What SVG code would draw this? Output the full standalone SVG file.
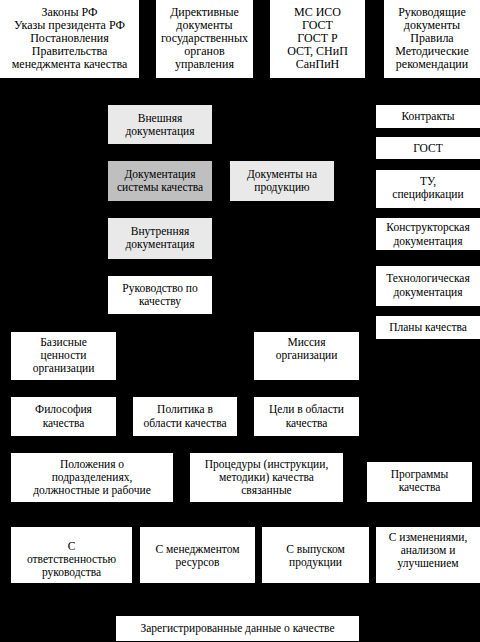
<svg xmlns="http://www.w3.org/2000/svg" width="480" height="642" viewBox="0 0 480 642">
<style>
.bg{fill:#000}
.b{fill:#fff}
.l{fill:#e9e9e9}
.d{fill:#bfbfbf}
text{font-size:11.5px;fill:#000;text-anchor:middle}
.t text{font-size:12px}
</style>
<rect class="bg" x="0" y="0" width="480" height="642"/>
<g id="connectors"></g>
<g font-family="Liberation Serif, DejaVu Serif, serif">
<g id="n1" class="t"><rect class="b" x="0" y="0" width="139" height="78"/><text x="69.5" y="16">Законы РФ</text><text x="69.5" y="29">Указы президента РФ</text><text x="69.5" y="42">Постановления</text><text x="69.5" y="55">Правительства</text><text x="69.5" y="68">менеджмента качества</text></g>
<g id="n2" class="t"><rect class="b" x="156" y="0" width="97" height="78"/><text x="204.5" y="16">Директивные</text><text x="204.5" y="29">документы</text><text x="204.5" y="42">государственных</text><text x="204.5" y="55">органов</text><text x="204.5" y="68">управления</text></g>
<g id="n3" class="t"><rect class="b" x="270" y="0" width="95" height="78"/><text x="317.5" y="16">МС ИСО</text><text x="317.5" y="29">ГОСТ</text><text x="317.5" y="42">ГОСТ Р</text><text x="317.5" y="55">ОСТ, СНиП</text><text x="317.5" y="68">СанПиН</text></g>
<g id="n4" class="t"><rect class="b" x="384" y="0" width="96" height="78"/><text x="432" y="16">Руководящие</text><text x="432" y="29">документы</text><text x="432" y="42">Правила</text><text x="432" y="55">Методические</text><text x="432" y="68">рекомендации</text></g>
<g id="n5"><rect class="l" x="108" y="105" width="104" height="39"/><text x="160" y="122">Внешняя</text><text x="160" y="135">документация</text></g>
<g id="n6"><rect class="d" x="108" y="161" width="104" height="40"/><text x="160" y="178">Документация</text><text x="160" y="191">системы качества</text></g>
<g id="n7"><rect class="l" x="230" y="161" width="104" height="40"/><text x="282" y="178">Документы на</text><text x="282" y="191">продукцию</text></g>
<g id="n8"><rect class="l" x="108" y="218" width="104" height="41"/><text x="160" y="235">Внутренняя</text><text x="160" y="248">документация</text></g>
<g id="n9"><rect class="b" x="108" y="276" width="104" height="38"/><text x="160" y="292">Руководство по</text><text x="160" y="305">качеству</text></g>
<g id="n10"><rect class="b" x="376" y="105" width="104" height="23"/><text x="428" y="120">Контракты</text></g>
<g id="n11"><rect class="b" x="376" y="137" width="104" height="22"/><text x="428" y="152">ГОСТ</text></g>
<g id="n12"><rect class="b" x="376" y="170" width="104" height="38"/><text x="428" y="185">ТУ,</text><text x="428" y="198">спецификации</text></g>
<g id="n13"><rect class="b" x="376" y="218" width="104" height="32"/><text x="428" y="231">Конструкторская</text><text x="428" y="245">документация</text></g>
<g id="n14"><rect class="b" x="376" y="266" width="104" height="40"/><text x="428" y="282">Технологическая</text><text x="428" y="296">документация</text></g>
<g id="n15"><rect class="b" x="376" y="316" width="104" height="23"/><text x="428" y="331">Планы качества</text></g>
<g id="n16"><rect class="b" x="11" y="332" width="105" height="48"/><text x="63.5" y="346">Базисные</text><text x="63.5" y="359">ценности</text><text x="63.5" y="372">организации</text></g>
<g id="n17"><rect class="b" x="254" y="332" width="105" height="48"/><text x="306.5" y="346">Миссия</text><text x="306.5" y="359">организации</text></g>
<g id="n18"><rect class="b" x="11" y="397" width="105" height="39"/><text x="63.5" y="413">Философия</text><text x="63.5" y="427">качества</text></g>
<g id="n19"><rect class="b" x="133" y="397" width="104" height="39"/><text x="185" y="413">Политика в</text><text x="185" y="427">области качества</text></g>
<g id="n20"><rect class="b" x="254" y="397" width="105" height="39"/><text x="306.5" y="413">Цели в области</text><text x="306.5" y="427">качества</text></g>
<g id="n21"><rect class="b" x="11" y="453" width="162" height="49"/><text x="92" y="468">Положения о</text><text x="92" y="481">подразделениях,</text><text x="92" y="494">должностные и рабочие</text></g>
<g id="n22"><rect class="b" x="190" y="453" width="153" height="49"/><text x="266.5" y="468">Процедуры (инструкции,</text><text x="266.5" y="481">методики) качества</text><text x="266.5" y="494">связанные</text></g>
<g id="n23"><rect class="b" x="367" y="462" width="105" height="40"/><text x="419.5" y="478">Программы</text><text x="419.5" y="491">качества</text></g>
<g id="n24"><rect class="b" x="11" y="527" width="121" height="56"/><text x="71.5" y="550">С</text><text x="71.5" y="563">ответственностью</text><text x="71.5" y="576">руководства</text></g>
<g id="n25"><rect class="b" x="140" y="527" width="115" height="56"/><text x="197.5" y="553">С менеджментом</text><text x="197.5" y="566">ресурсов</text></g>
<g id="n26"><rect class="b" x="262" y="527" width="107" height="56"/><text x="315.5" y="553">С выпуском</text><text x="315.5" y="566">продукции</text></g>
<g id="n27"><rect class="b" x="376" y="527" width="104" height="56"/><text x="428" y="541">С изменениями,</text><text x="428" y="554">анализом и</text><text x="428" y="567">улучшением</text></g>
<g id="n28"><rect class="b" x="116" y="616" width="243" height="25"/><text x="237.5" y="632">Зарегистрированные данные о качестве</text></g>
</g>
</svg>
